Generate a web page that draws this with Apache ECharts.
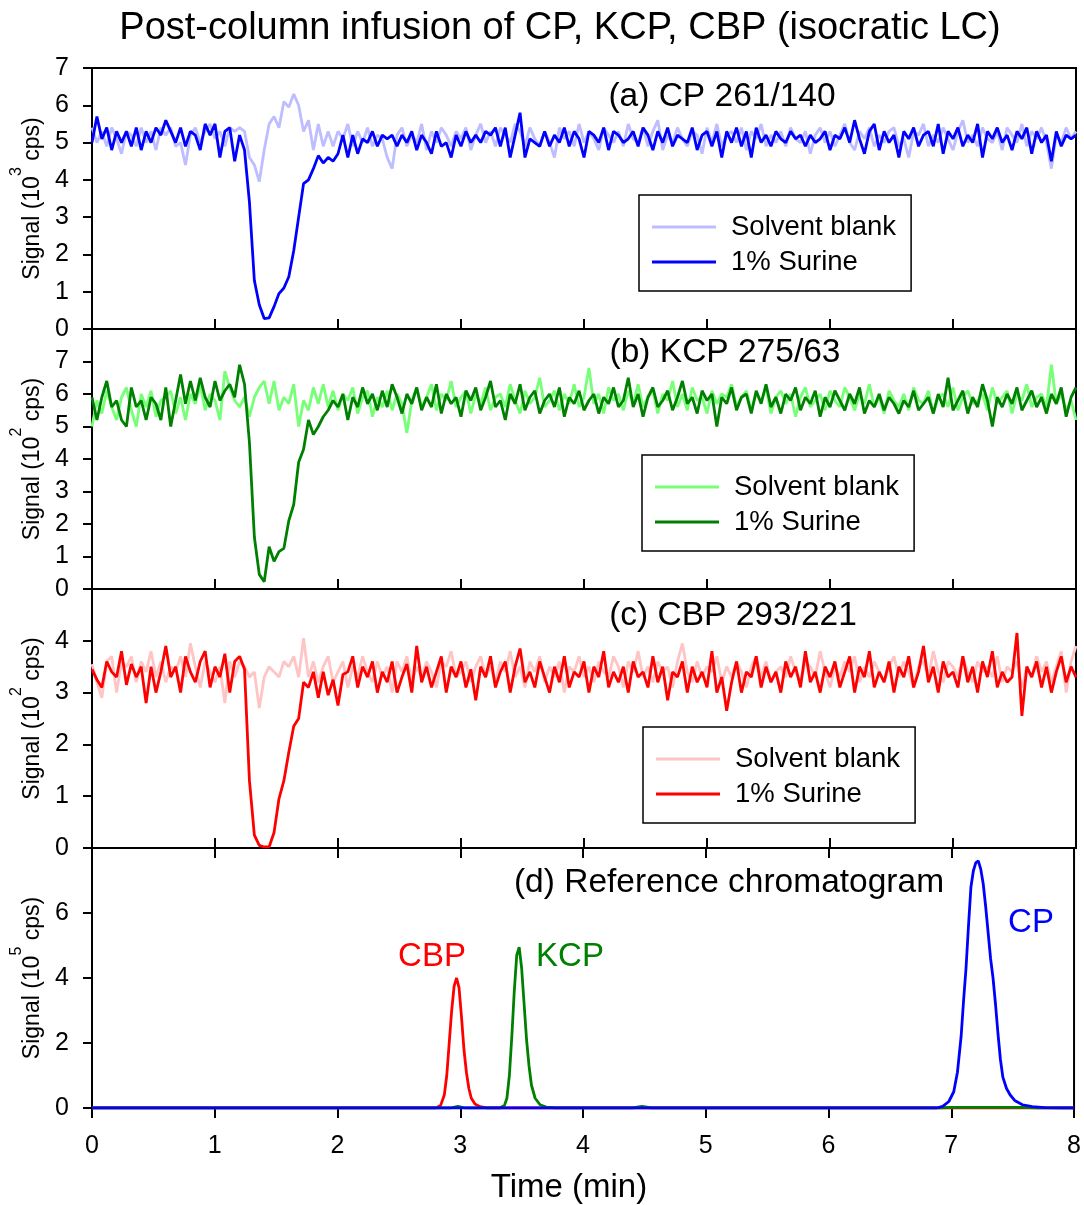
<!DOCTYPE html>
<html><head><meta charset="utf-8">
<script src="https://cdn.jsdelivr.net/npm/echarts@6/dist/echarts.min.js"></script>
<style>html,body{margin:0;padding:0;background:#fff}#c{width:1084px;height:1205px}</style>
</head><body><div id="c"></div>
<script>
const FONT = '"Liberation Sans", Arial, Helvetica, sans-serif';
const dt = 0.04; // sampling step of the traces (min)

// (a) CP 261/140, signal in 10^3 cps
const blankA = [
5.4,5.0,5.3,4.9,5.4,5.1,4.7,5.3,5.2,4.9,
5.4,5.0,5.3,4.8,5.4,5.2,5.4,4.9,5.0,4.4,
5.2,5.4,5.0,5.3,5.5,5.1,5.3,4.9,5.4,5.3,
5.4,5.3,4.6,4.4,3.95,4.8,5.5,5.7,5.4,6.1,
5.95,6.3,6.0,5.3,5.6,4.8,5.5,4.9,5.3,4.9,
5.3,5.1,5.5,4.9,5.3,5.0,5.4,4.9,5.2,5.1,
4.6,4.3,5.2,5.4,4.9,5.2,5.0,5.5,4.8,5.3,
5.0,5.4,5.2,4.9,5.3,5.1,5.4,4.8,5.2,5.5,
5.0,5.3,4.9,5.4,5.2,5.0,5.5,5.3,4.9,5.4,
5.1,4.9,5.3,5.0,4.6,5.4,5.1,5.3,4.9,5.5,
5.0,5.3,5.1,4.8,5.4,5.2,5.0,5.3,4.9,5.5,
5.1,5.0,5.4,4.9,5.3,5.6,4.8,5.2,5.0,5.4,
5.1,4.9,5.3,5.2,4.7,5.4,5.0,5.5,4.9,5.2,
5.3,5.0,5.4,4.8,5.3,5.1,5.5,4.9,5.2,5.0,
5.3,4.9,5.4,5.1,5.0,5.3,4.7,5.2,5.4,5.0,
5.3,4.9,5.2,5.5,5.0,4.8,5.3,5.1,5.4,4.9,
5.2,5.0,5.3,5.4,4.9,5.1,4.6,5.3,5.2,5.5,
4.9,5.2,5.0,5.4,5.1,4.8,5.3,5.6,5.0,5.2,
4.9,5.4,5.1,5.0,5.3,4.8,5.4,5.2,5.0,5.5,
4.9,5.3,5.1,5.4,5.0,4.3,5.2,5.0,5.4,5.1,
5.3];
const surineA = [
5.0,5.7,5.1,5.4,4.8,5.3,5.0,5.3,4.9,5.4,
4.8,5.3,5.0,5.4,5.2,5.6,5.3,5.0,5.4,4.9,
5.3,5.2,4.8,5.5,5.2,5.5,4.6,5.3,5.4,4.5,
5.2,4.8,3.4,1.3,0.65,0.28,0.3,0.6,0.95,1.1,
1.4,2.1,3.0,3.9,4.0,4.3,4.65,4.45,4.6,4.5,
4.7,5.2,4.6,5.2,4.7,5.1,5.0,5.3,4.9,5.2,
5.1,5.2,4.9,5.2,5.0,5.3,4.8,5.2,5.0,4.7,
5.3,4.9,5.0,4.6,5.2,4.9,5.3,5.0,5.2,5.0,
5.3,5.2,5.4,4.9,5.4,4.6,5.2,5.8,4.6,5.1,
5.0,4.9,5.3,4.9,5.2,5.0,5.4,4.9,5.3,5.1,
4.6,5.3,5.2,5.0,5.4,4.8,5.3,5.2,5.0,5.1,
5.3,4.9,5.4,5.2,4.8,5.3,5.0,5.4,4.9,5.2,
5.1,5.0,5.4,4.8,5.2,5.3,4.9,5.3,4.6,5.3,
5.0,5.4,4.9,5.3,4.6,5.4,5.0,5.2,4.9,5.3,
5.1,5.0,5.3,5.1,5.2,4.9,5.2,5.0,5.1,5.3,
4.8,5.2,5.1,5.4,5.0,5.6,5.1,4.7,5.3,5.5,
4.8,5.3,5.0,5.2,4.6,5.3,5.1,5.4,4.9,5.2,
5.3,4.9,5.5,4.7,5.3,5.1,5.4,4.9,5.2,5.0,
5.5,4.6,5.3,5.1,5.4,5.0,5.2,4.8,5.3,5.1,
5.4,4.7,5.3,5.0,5.2,4.5,5.3,4.9,5.2,5.1,
5.2];

// (b) KCP 275/63, signal in 10^2 cps
const blankB = [
5.0,5.8,5.4,6.1,5.6,5.2,5.9,6.2,5.5,5.0,
6.0,5.6,6.1,5.3,5.8,5.9,6.1,5.4,5.9,5.2,
6.0,5.7,6.3,5.5,6.0,5.8,5.2,6.7,6.2,5.8,
5.6,5.9,5.3,5.9,6.2,6.4,5.7,6.4,5.5,5.9,
5.7,6.3,5.0,5.8,5.5,6.2,5.7,6.3,5.6,6.1,
5.5,6.0,5.8,6.2,5.4,5.9,6.1,5.3,5.9,5.6,
6.1,5.5,6.0,5.7,4.8,5.8,6.2,5.6,5.9,6.3,
5.5,6.0,5.8,6.4,5.6,5.9,6.1,5.4,6.0,5.7,
6.2,5.5,5.9,6.0,5.6,6.3,5.8,5.4,6.1,5.7,
5.9,6.5,5.6,5.8,6.1,5.5,6.0,5.7,6.3,5.6,
5.9,6.8,5.7,6.0,5.4,6.2,5.8,6.0,5.5,6.1,
5.7,6.3,5.6,5.9,6.1,5.4,6.0,5.8,6.4,5.6,
6.0,5.5,6.2,5.8,5.9,5.4,6.1,5.7,6.0,5.9,
6.3,5.6,5.9,6.1,5.5,6.0,5.8,6.2,5.4,5.9,
6.1,5.7,6.0,5.3,5.9,6.2,5.6,5.8,6.0,5.5,
6.1,5.8,5.6,6.2,5.9,5.5,6.0,5.7,6.3,5.6,
5.9,5.4,6.1,5.8,5.6,6.0,5.5,6.2,5.8,5.7,
6.1,5.4,5.9,6.0,5.6,6.2,5.5,5.9,6.1,5.7,
5.8,6.0,5.5,6.2,5.7,5.9,6.1,5.4,6.0,5.8,
6.3,5.6,5.9,6.0,5.6,6.9,5.7,6.0,5.5,5.8,
5.2];
const surineB = [
5.9,5.2,5.9,6.4,5.6,5.8,5.2,5.0,6.2,5.6,
5.8,5.2,5.9,5.7,5.2,6.2,5.0,5.8,6.6,5.7,
6.4,5.8,6.5,5.9,5.6,6.4,5.8,6.1,6.3,5.9,
6.9,6.3,4.5,1.6,0.45,0.22,1.3,0.85,1.15,1.25,
2.1,2.6,3.9,4.3,5.2,4.75,5.0,5.3,5.5,5.8,
5.6,6.0,5.2,5.9,5.6,6.2,5.7,6.0,5.5,6.1,
5.6,6.3,5.9,5.4,6.0,5.7,6.2,5.5,5.9,5.6,
6.3,5.4,6.0,5.7,5.9,5.3,6.1,5.8,6.2,5.5,
5.9,6.4,5.6,5.8,5.2,6.0,5.7,6.3,5.5,5.9,
6.1,5.4,5.8,6.0,5.6,6.2,5.3,5.9,5.7,6.1,
5.5,5.8,6.0,5.4,5.9,5.7,6.2,5.6,5.8,6.5,
5.6,6.0,5.3,5.9,6.2,5.6,5.8,6.1,5.5,5.9,
6.4,5.7,5.9,5.4,6.1,5.8,6.0,5.0,5.9,5.7,
6.2,5.5,5.9,6.0,5.4,6.1,5.7,6.3,5.6,5.9,
5.4,6.0,5.8,6.2,5.5,5.9,5.7,6.1,5.3,5.9,
5.6,6.1,5.8,5.5,6.0,5.7,6.2,5.4,5.8,5.6,
6.0,5.5,5.9,5.7,5.4,5.8,5.6,6.1,5.5,5.7,
5.9,5.4,6.0,5.6,6.5,5.5,5.8,6.1,5.4,5.9,
5.6,6.3,5.8,5.0,5.9,5.6,6.0,5.7,6.2,5.5,
5.8,6.1,5.6,5.9,5.4,6.0,5.7,6.2,5.3,5.9,
6.2];

// (c) CBP 293/221, signal in 10^2 cps
const blankC = [
3.55,3.2,2.9,3.6,3.7,3.0,3.6,3.5,3.7,3.2,
3.6,3.4,3.8,3.3,3.6,3.2,3.5,3.4,3.7,3.3,
3.95,3.5,3.1,3.6,3.4,3.2,3.5,2.8,3.6,3.3,
3.6,3.5,3.3,3.4,2.7,3.3,3.5,3.4,3.3,3.6,
3.5,3.7,3.3,4.05,3.3,3.6,3.2,3.5,3.7,3.2,
3.4,3.6,3.1,3.5,3.3,3.7,3.4,3.2,3.6,3.3,
3.5,3.0,3.6,3.4,3.7,3.2,3.5,3.3,3.6,3.4,
3.1,3.6,3.5,3.8,3.3,3.4,3.6,3.2,3.5,3.7,
3.3,3.5,3.2,3.6,3.4,3.8,3.3,3.5,3.1,3.6,
3.4,3.7,3.2,3.5,3.3,3.6,3.0,3.5,3.4,3.7,
3.3,3.5,3.2,3.6,3.4,3.3,3.7,3.5,3.1,3.6,
3.4,3.8,3.3,3.5,3.2,3.6,3.4,3.5,3.1,3.6,
3.95,3.4,3.2,3.6,3.3,3.5,3.4,3.7,3.2,3.5,
3.3,3.6,3.4,3.1,3.5,3.7,3.3,3.6,3.2,3.4,
3.5,3.3,3.7,3.4,3.2,3.6,3.5,3.3,3.8,3.4,
3.1,3.5,3.3,3.6,3.4,3.7,3.2,3.5,3.3,3.6,
3.4,3.2,3.5,3.7,3.3,3.6,3.4,3.1,3.5,3.6,
3.3,3.8,3.4,3.2,3.6,3.5,3.3,3.7,3.4,3.2,
3.6,3.4,3.5,3.3,3.7,3.2,3.5,3.4,3.6,3.1,
3.5,3.3,3.7,3.4,3.6,3.2,3.5,3.8,3.0,3.6,
3.9];
const surineC = [
3.45,3.25,3.1,3.6,3.4,3.3,3.8,3.15,3.55,3.3,
3.5,2.8,3.5,3.0,3.4,3.9,3.3,3.5,3.0,3.7,
3.4,3.2,3.6,3.8,3.1,3.5,3.3,3.75,3.0,3.6,
3.7,3.45,1.3,0.25,0.05,0.02,0.02,0.3,0.95,1.3,
1.85,2.35,2.5,3.2,3.1,3.4,2.9,3.4,2.95,3.25,
2.75,3.35,3.4,3.7,3.1,3.5,3.3,3.6,3.0,3.4,
3.2,3.6,3.0,3.3,3.55,3.0,3.9,3.2,3.5,3.1,
3.4,3.7,3.0,3.5,3.3,3.6,3.1,3.45,2.85,3.5,
3.3,3.7,3.1,3.4,3.6,3.0,3.5,3.85,3.2,3.4,
3.1,3.6,3.3,3.0,3.5,3.2,3.7,3.1,3.4,3.3,
3.6,3.0,3.5,3.3,3.8,3.1,3.4,3.2,3.5,3.0,
3.6,3.3,3.4,3.1,3.7,3.2,3.5,2.85,3.4,3.3,
3.6,3.0,3.5,3.2,3.4,3.1,3.8,3.0,3.3,2.65,
3.2,3.6,3.0,3.4,3.3,3.7,3.1,3.5,3.2,3.4,
3.0,3.6,3.3,3.5,3.1,3.8,3.2,3.4,3.0,3.5,
3.3,3.6,3.1,3.4,3.7,3.0,3.5,3.3,3.8,3.1,
3.4,3.2,3.6,3.0,3.5,3.3,3.7,3.1,3.4,3.9,
3.2,3.5,3.0,3.6,3.3,3.4,3.1,3.7,3.2,3.5,
3.0,3.6,3.3,3.8,3.1,3.4,3.2,3.3,4.15,2.55,
3.5,3.3,3.6,3.1,3.5,3.0,3.4,3.7,3.2,3.5,
3.3];

// (d) Reference chromatogram, [time (min), signal in 10^5 cps]
const refCBP = [[0,0],[2.80,0],[2.84,0.08],[2.87,0.4],[2.89,1.0],[2.91,2.0],[2.93,3.0],[2.95,3.75],[2.97,4.0],[2.99,3.7],[3.01,2.8],[3.03,1.8],[3.05,1.1],[3.07,0.6],[3.09,0.3],[3.12,0.12],[3.16,0.04],[3.22,0],[8,0]];
const refKCP = [[0,0],[2.92,0],[2.98,0.05],[3.04,0],[3.32,0],[3.36,0.08],[3.38,0.3],[3.40,1.0],[3.42,2.2],[3.44,3.6],[3.46,4.7],[3.48,4.95],[3.50,4.3],[3.52,3.2],[3.54,2.1],[3.56,1.3],[3.58,0.7],[3.61,0.3],[3.65,0.1],[3.70,0.03],[3.78,0],[4.40,0],[4.48,0.05],[4.56,0],[6.9,0],[7.0,0.02],[7.6,0.02],[7.7,0],[8,0]];
const refCP = [[0,0],[6.88,0],[6.93,0.05],[6.98,0.2],[7.02,0.5],[7.05,1.1],[7.08,2.2],[7.10,3.3],[7.12,4.3],[7.14,5.6],[7.16,6.8],[7.18,7.3],[7.20,7.55],[7.22,7.6],[7.24,7.35],[7.26,6.9],[7.28,6.2],[7.30,5.4],[7.32,4.6],[7.34,4.0],[7.36,3.2],[7.38,2.3],[7.40,1.5],[7.42,0.95],[7.45,0.6],[7.48,0.4],[7.52,0.22],[7.58,0.1],[7.66,0.04],[7.76,0.01],[7.9,0],[8,0]];

const xTicks = [0,1,2,3,4,5,6,7,8];

// sampling grid of the traces
const time = blankA.map((_, i) => +(i * dt).toFixed(2));
const pair = arr => arr.map((v, i) => [time[i], v]);

const panels = [
  {top: 68, height: 261, min: 0, max: 7, interval: 1, exp: '3', showMax: true},
  {top: 329, height: 260, min: 0, max: 8, interval: 1, exp: '2', showMax: false},
  {top: 589, height: 259, min: 0, max: 5, interval: 1, exp: '2', showMax: false},
  {top: 848, height: 260, min: 0, max: 8, interval: 2, exp: '5', showMax: false}
];

const grid = panels.map(p => ({left: 92, right: 8, top: p.top, height: p.height,
  show: true, borderColor: '#000', borderWidth: 2, backgroundColor: 'transparent'}));

const axLine = {show: true, onZero: false, lineStyle: {color: '#000', width: 2}};
function xAx(gi, extra) {
  return Object.assign({type: 'value', gridIndex: gi, min: 0, max: 8, interval: 1,
    axisLine: axLine,
    axisTick: {show: true, inside: true, length: 10, lineStyle: {color: '#000', width: 2}},
    axisLabel: {show: false}, splitLine: {show: false}}, extra || {});
}
const xAxis = [
  xAx(0), xAx(1), xAx(2),
  xAx(3, {axisTick: {show: true, inside: false, length: 10, lineStyle: {color: '#000', width: 2}},
          axisLabel: {show: true, fontSize: 25, color: '#000', fontFamily: FONT, margin: 26,
                      formatter: v => xTicks.includes(v) ? String(v) : ''}}),
  xAx(3) // inner half of the crossing ticks on the bottom panel
];

const nameRich = {
  a: {fontSize: 23, fontFamily: FONT, color: '#000', lineHeight: 36, verticalAlign: 'bottom'},
  s: {fontSize: 16, fontFamily: FONT, color: '#000', lineHeight: 36, verticalAlign: 'top'}
};
const yAxis = panels.map((p, i) => ({
  type: 'value', gridIndex: i, min: p.min, max: p.max, interval: p.interval,
  axisLine: axLine,
  axisTick: {show: true, inside: false, length: 9, lineStyle: {color: '#000', width: 2}},
  axisLabel: {fontSize: 25, color: '#000', fontFamily: FONT, margin: 23, showMaxLabel: p.showMax},
  splitLine: {show: false},
  name: '{a|Signal (10}{s|' + p.exp + '}{a| cps)}',
  nameLocation: 'middle', nameGap: 44,
  nameTextStyle: {rich: nameRich}
}));

function ser(name, data, idx, color) {
  return {name, type: 'line', xAxisIndex: idx, yAxisIndex: idx, data,
    symbol: 'none', showSymbol: false, smooth: false, silent: true,
    lineStyle: {color, width: 2.8}, itemStyle: {color}, emphasis: {disabled: true}};
}
const series = [
  ser('a:Solvent blank', pair(blankA), 0, '#BDBDFF'),
  ser('a:1% Surine', pair(surineA), 0, '#0000FF'),
  ser('b:Solvent blank', pair(blankB), 1, '#77FF77'),
  ser('b:1% Surine', pair(surineB), 1, '#008000'),
  ser('c:Solvent blank', pair(blankC), 2, '#FFC4C4'),
  ser('c:1% Surine', pair(surineC), 2, '#FF0000'),
  ser('d:CBP', refCBP, 3, '#FF0000'),
  ser('d:KCP', refKCP, 3, '#008000'),
  ser('d:CP', refCP, 3, '#0000FF')
];

function lg(left, top, key) {
  return {orient: 'vertical', left, top, data: [key + ':Solvent blank', key + ':1% Surine'],
    icon: 'rect', itemWidth: 64, itemHeight: 3, itemGap: 7, padding: [18, 15, 15, 13],
    borderColor: '#000', borderWidth: 1.5, backgroundColor: '#fff', selectedMode: false,
    formatter: n => n.split(':')[1],
    textStyle: {fontSize: 27.5, color: '#000', fontFamily: FONT, padding: [0, 0, 0, 10]}};
}
const legend = [lg(639, 195, 'a'), lg(642, 455, 'b'), lg(643, 727, 'c')];

function txt(x, y, text, size, color) {
  return {type: 'text', x, y, z: 100, silent: true,
    style: {text, fontSize: size, fontFamily: FONT, fill: color,
      align: 'center', verticalAlign: 'middle', textAlign: 'center', textVerticalAlign: 'middle'}};
}
const graphic = [
  txt(560, 29, 'Post-column infusion of CP, KCP, CBP (isocratic LC)', 38, '#000'),
  txt(722, 97, '(a) CP 261/140', 33.5, '#000'),
  txt(725, 353, '(b) KCP 275/63', 33.5, '#000'),
  txt(733, 616, '(c) CBP 293/221', 33.5, '#000'),
  txt(729, 883, '(d) Reference chromatogram', 33.5, '#000'),
  txt(432, 957, 'CBP', 33, '#FF0000'),
  txt(570, 957, 'KCP', 33, '#008000'),
  txt(1031, 923, 'CP', 33, '#0000FF'),
  txt(569, 1188, 'Time (min)', 33, '#000')
];

const chart = echarts.init(document.getElementById('c'), null, {renderer: 'canvas'});
chart.setOption({animation: false, backgroundColor: '#fff', textStyle: {fontFamily: FONT},
  grid, xAxis, yAxis, series, legend, graphic});
</script></body></html>
